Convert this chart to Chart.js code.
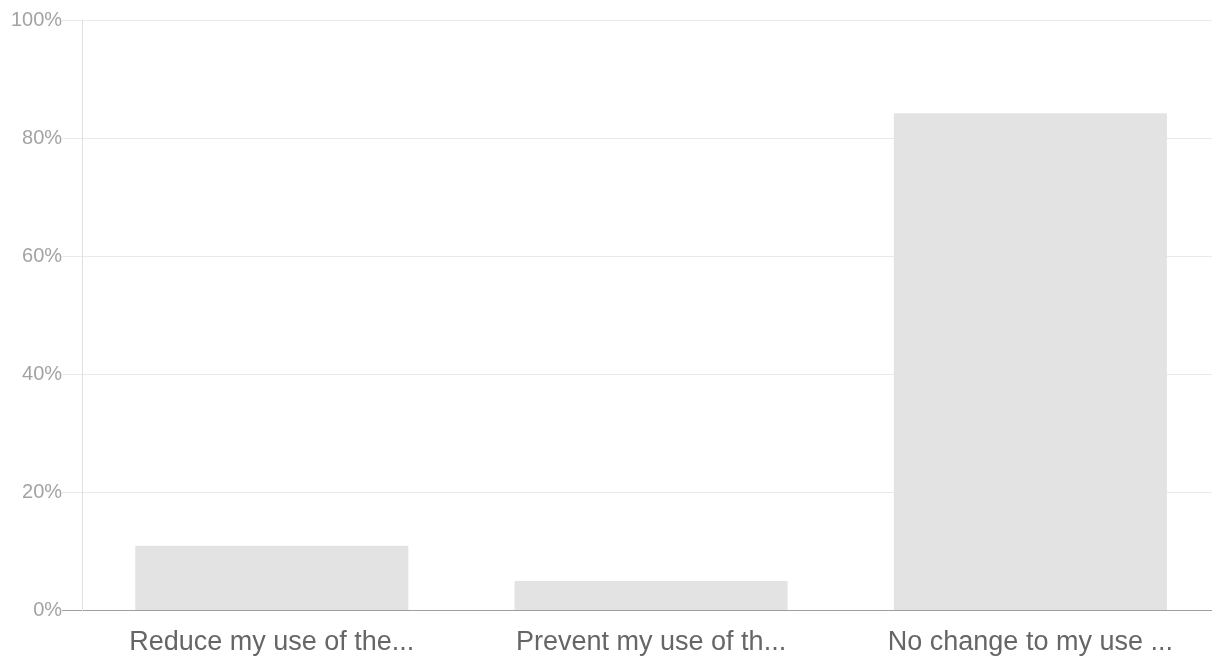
<!DOCTYPE html>
<html>
<head>
<meta charset="utf-8">
<script src="https://cdn.jsdelivr.net/npm/chart.js@4"></script>
<style>
    html, body { margin: 0; padding: 0; background: #fff; overflow: hidden; }
    #wrap { position: absolute; left: 0; top: 0; width: 1222px; height: 660px; }
</style>
</head>
<body>
<div id="wrap"><canvas id="answerChart"></canvas></div>
<script>
// survey answers (share of respondents, %)
var categories = ['Reduce my use of the...', 'Prevent my use of th...', 'No change to my use ...'];
var shares = [11.0, 5.0, 84.2];
var yTicks = [0, 20, 40, 60, 80, 100];

(function() {
    var ctx = document.getElementById('answerChart').getContext('2d');

    new Chart(ctx, {
        type: 'bar',
        data: {
            labels: categories,
            datasets: [{
                data: shares,
                backgroundColor: '#e3e3e3',
                borderWidth: 0,
                categoryPercentage: 1,
                barPercentage: 0.72
            }]
        },
        options: {
            responsive: true,
            maintainAspectRatio: false,
            animation: false,
            layout: {
                padding: { left: 11, top: 20, right: 2, bottom: -15 }
            },
            plugins: {
                legend: { display: false },
                tooltip: { enabled: false }
            },
            scales: {
                x: {
                    grid: { display: false, drawTicks: false },
                    border: { color: '#9e9e9e', width: 1 },
                    ticks: {
                        color: '#666',
                        padding: 16,
                        maxRotation: 0,
                        autoSkip: false,
                        font: { family: 'Liberation Sans, Arial, sans-serif', size: 27 }
                    }
                },
                y: {
                    min: 0,
                    max: 100,
                    z: 1,
                    afterBuildTicks: function(scale) {
                        scale.ticks = yTicks.map(function(v) { return { value: v }; });
                    },
                    grid: {
                        color: function(c) {
                            return c.tick && c.tick.value === 0 ? '#9e9e9e' : 'rgba(200,200,200,0.4)';
                        },
                        tickLength: 20
                    },
                    border: { color: '#e0e0e0' },
                    ticks: {
                        color: '#a3a3a3',
                        padding: 0,
                        font: { family: 'Liberation Sans, Arial, sans-serif', size: 20 },
                        callback: function(v) { return v + '%'; }
                    }
                }
            }
        }
    });
})();
</script>
</body>
</html>
